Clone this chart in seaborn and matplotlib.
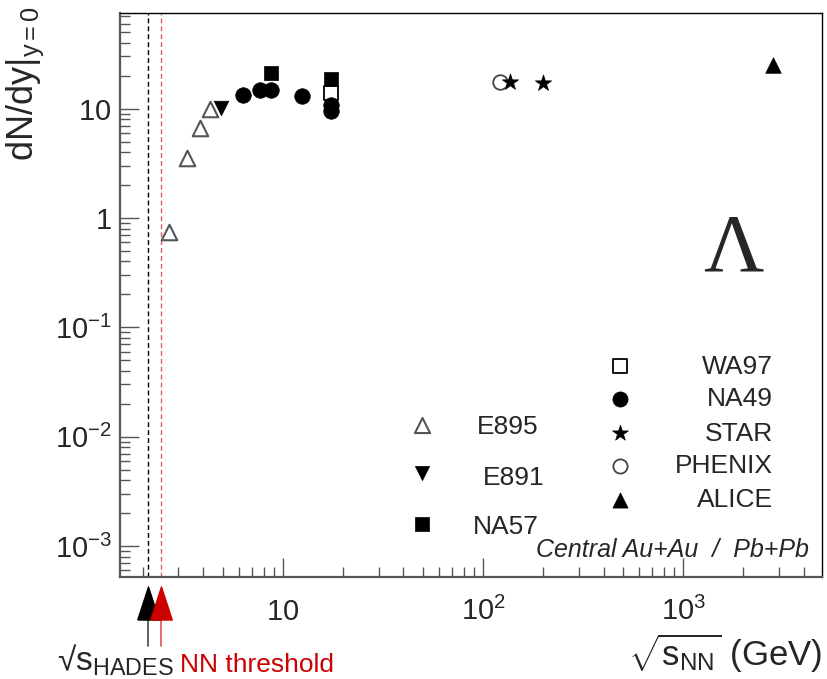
import numpy as np
import pandas as pd
import matplotlib
matplotlib.use("Agg")
import matplotlib.pyplot as plt
import matplotlib.transforms as mtrans
from matplotlib.ticker import FixedLocator, FixedFormatter, LogLocator, NullFormatter
import seaborn as sns

# Lambda yields at mid-rapidity, central Au+Au / Pb+Pb collisions
e895_sqrts = [2.70, 3.32, 3.84, 4.29]
e895_dndy = [0.75, 3.5, 6.7, 10.0]
e891_sqrts = [4.87]
e891_dndy = [10.1]
wa97_sqrts = [17.3]
wa97_dndy = [13.8]
na49_sqrts = [6.27, 7.64, 8.75, 12.4, 17.3, 17.3]
na49_dndy = [13.4, 14.9, 14.9, 13.1, 10.9, 9.6]
na57_sqrts = [8.75, 17.3]
na57_dndy = [21.2, 18.7]
phenix_sqrts = [122.0]
phenix_dndy = [17.4]
star_sqrts = [136.0, 200.0]
star_dndy = [17.4, 17.2]
alice_sqrts = [2800.0]
alice_dndy = [25.3]

# reference energies marked below the axis
hades_sqrts = 2.10
nn_threshold_sqrts = 2.46

x_ticks = [10, 100, 1000]
x_ticklabels = [r"$10$", r"$10^{2}$", r"$10^{3}$"]
y_ticks = [1e-3, 1e-2, 1e-1, 1, 10]
y_ticklabels = [r"$10^{-3}$", r"$10^{-2}$", r"$10^{-1}$", r"$1$", r"$10$"]

sns.set_style("ticks")
plt.rcParams["font.family"] = ["Liberation Sans", "DejaVu Sans"]
plt.rcParams["mathtext.fontset"] = "custom"
plt.rcParams["mathtext.rm"] = "Liberation Sans"
plt.rcParams["mathtext.it"] = "Liberation Sans:italic"
plt.rcParams["mathtext.bf"] = "Liberation Sans:bold"
plt.rcParams["mathtext.default"] = "regular"

frames = []
for name, xs, ys in [
    ("WA97", wa97_sqrts, wa97_dndy),
    ("NA49", na49_sqrts, na49_dndy),
    ("NA57", na57_sqrts, na57_dndy),
    ("E895", e895_sqrts, e895_dndy),
    ("E891", e891_sqrts, e891_dndy),
    ("PHENIX", phenix_sqrts, phenix_dndy),
    ("STAR", star_sqrts, star_dndy),
    ("ALICE", alice_sqrts, alice_dndy),
]:
    frames.append(pd.DataFrame({"sqrts": xs, "dndy": ys, "exp": name}))
data = pd.concat(frames, ignore_index=True)

styles = {
    "WA97": dict(marker="s", color="white", edgecolor="black", linewidth=1.3, s=110),
    "NA49": dict(marker="o", color="black", edgecolor="black", linewidth=0.5, s=125),
    "NA57": dict(marker="s", color="black", edgecolor="black", linewidth=0.5, s=105),
    "E895": dict(marker="^", color="white", edgecolor="#555555", linewidth=1.5, s=125),
    "E891": dict(marker="v", color="black", edgecolor="black", linewidth=0.5, s=110),
    "PHENIX": dict(marker="o", color="white", edgecolor="#444444", linewidth=1.3, s=110),
    "STAR": dict(marker="*", color="black", edgecolor="black", linewidth=0.5, s=150),
    "ALICE": dict(marker="^", color="black", edgecolor="black", linewidth=0.5, s=125),
}

fig = plt.figure(figsize=(8.27, 6.79), dpi=100)
ax = fig.add_axes([0.1451, 0.1502, 0.8489, 0.8307])

for name in ["WA97", "NA49", "NA57", "E895", "E891", "PHENIX", "STAR", "ALICE"]:
    sub = data[data["exp"] == name]
    sns.scatterplot(data=sub, x="sqrts", y="dndy", ax=ax, legend=False,
                    zorder=3, clip_on=False, **styles[name])

ax.set_xscale("log")
ax.set_yscale("log")
ax.set_xlim(1.53, 4950)
ax.set_ylim(5.2e-4, 75)

ax.xaxis.set_major_locator(FixedLocator(x_ticks))
ax.xaxis.set_major_formatter(FixedFormatter(x_ticklabels))
ax.xaxis.set_minor_locator(LogLocator(base=10, subs=np.arange(2, 10), numticks=50))
ax.xaxis.set_minor_formatter(NullFormatter())
ax.yaxis.set_major_locator(FixedLocator(y_ticks))
ax.yaxis.set_major_formatter(FixedFormatter(y_ticklabels))
ax.yaxis.set_minor_locator(LogLocator(base=10, subs=np.arange(2, 10), numticks=50))
ax.yaxis.set_minor_formatter(NullFormatter())

ax.tick_params(which="both", direction="in", top=False, right=False,
               color="#555555", width=1.0)
ax.tick_params(which="major", length=14, labelsize=21)
ax.tick_params(which="minor", length=7)
ax.tick_params(axis="x", which="major", pad=31)
ax.tick_params(axis="y", which="major", pad=6)
for lab in ax.get_xticklabels():
    lab.set_verticalalignment("baseline")

for side in ["left", "bottom"]:
    ax.spines[side].set_color("#555555")
    ax.spines[side].set_linewidth(1.6)
for side in ["top", "right"]:
    ax.spines[side].set_color("black")
    ax.spines[side].set_linewidth(1.0)

# vertical guide lines
ax.axvline(hades_sqrts, color="black", lw=1.0, ls=(0, (3.5, 2.2)), zorder=1)
ax.axvline(nn_threshold_sqrts, color="#e06060", lw=1.0, ls=(0, (3.5, 2.2)), zorder=1)

# arrows under the energy axis
blend = mtrans.blended_transform_factory(ax.transData, ax.transAxes)
tri = [(-0.65, -1.0), (0.65, -1.0), (0.0, 1.0), (-0.65, -1.0)]
for xv, fill, stem in [(hades_sqrts, "black", "#555555"),
                       (nn_threshold_sqrts, "#cc0000", "#e06060")]:
    ax.plot([xv, xv], [-0.0745, -0.1223], transform=blend, color=stem,
            lw=1.3, clip_on=False)
    ax.plot([xv], [-0.0461], transform=blend, marker=tri, ms=23.8,
            color=fill, mec=fill, ls="none", clip_on=False)

fig.text(57 / 827, 1 - 671 / 679, r"√$s_{HADES}$", fontsize=24,
         ha="left", va="baseline")
fig.text(180 / 827, 1 - 672 / 679, "NN threshold", fontsize=19,
         color="#cc0000", ha="left", va="baseline")

# axis titles
ax.set_ylabel(r"$dN/dy|_{y{=}0}$", fontsize=26, loc="top")
ax.yaxis.set_label_coords(-0.105, 1.012)
ax.set_xlabel(r"$\sqrt{s_{NN}}$ (GeV)", fontsize=25, loc="right")
ax.xaxis.set_label_coords(1.0, -0.0975)

# particle symbol
ax.text(0.873, 0.5426, "Λ", fontsize=60, family=["Liberation Serif", "DejaVu Serif"],
        transform=ax.transAxes, ha="center", va="baseline")

ax.text(0.9815, 0.036, "Central Au+Au  /  Pb+Pb", fontsize=18, style="italic",
        transform=ax.transAxes, ha="right", va="baseline")

# legend entries
left_entries = [("E895", 0.2695, 0.5085, 0.2527),
                ("E891", 0.1839, 0.5171, 0.1640),
                ("NA57", 0.0940, 0.5028, 0.0771)]
for name, my, tx, ty in left_entries:
    st = dict(styles[name])
    ax.scatter([0.4302], [my], transform=ax.transAxes, marker=st["marker"],
               s=st["s"] * 0.95, c=st["color"], edgecolors=st["edgecolor"],
               linewidths=st["linewidth"], clip_on=False, zorder=4)
    ax.text(tx, ty, name, fontsize=19, transform=ax.transAxes,
            ha="left", va="baseline")

right_entries = [("WA97", 0.3741, 0.3603),
                 ("NA49", 0.3151, 0.3037),
                 ("STAR", 0.2559, 0.2417),
                 ("PHENIX", 0.1968, 0.1838),
                 ("ALICE", 0.1365, 0.1246)]
for name, my, ty in right_entries:
    st = dict(styles[name])
    ax.scatter([0.7123], [my], transform=ax.transAxes, marker=st["marker"],
               s=st["s"] * 0.95, c=st["color"], edgecolors=st["edgecolor"],
               linewidths=st["linewidth"], clip_on=False, zorder=4)
    ax.text(0.9302, ty, name, fontsize=19, transform=ax.transAxes,
            ha="right", va="baseline")

fig.savefig("out.png", dpi=100)
